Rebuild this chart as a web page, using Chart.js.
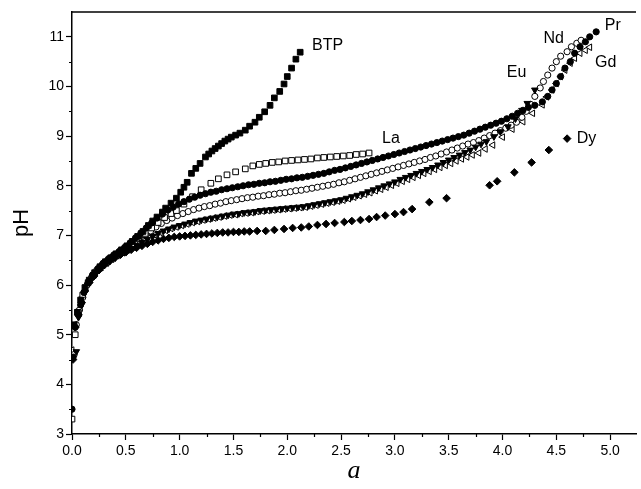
<!DOCTYPE html>
<html>
<head>
<meta charset="utf-8">
<script src="https://cdn.jsdelivr.net/npm/chart.js@4.4.1/dist/chart.umd.min.js"></script>
<style>
  html, body { margin: 0; padding: 0; background: #fff; overflow: hidden; }
  #wrap { width: 641px; height: 489px; }
</style>
</head>
<body>
<div id="wrap"><canvas id="chartCanvas"></canvas></div>
<script>
// Titration curves: pH against a, one array of [a, pH] pairs per series
const btp = [[0.02,5.2],[0.05,5.45],[0.08,5.7],[0.12,5.95],[0.16,6.1],[0.21,6.25],[0.26,6.37],[0.31,6.47],[0.36,6.55],[0.41,6.63],[0.46,6.71],[0.51,6.79],[0.56,6.88],[0.61,6.98],[0.66,7.08],[0.71,7.2],[0.75,7.29],[0.79,7.37],[0.84,7.47],[0.87,7.55],[0.92,7.65],[0.97,7.75],[1.01,7.87],[1.04,7.97],[1.07,8.07],[1.11,8.25],[1.15,8.35],[1.19,8.45],[1.24,8.58],[1.27,8.64],[1.30,8.7],[1.33,8.75],[1.36,8.8],[1.39,8.85],[1.42,8.9],[1.45,8.94],[1.48,8.98],[1.52,9.02],[1.56,9.06],[1.61,9.12],[1.65,9.2],[1.70,9.28],[1.74,9.38],[1.79,9.49],[1.84,9.62],[1.88,9.77],[1.93,9.9],[1.97,10.05],[2.0,10.2],[2.04,10.37],[2.08,10.55],[2.12,10.69]];

const la = [[0,3.3],[0.03,5.0],[0.06,5.45],[0.1,5.8],[0.15,6.05],[0.2,6.2],[0.26,6.35],[0.32,6.46],[0.38,6.56],[0.44,6.65],[0.5,6.74],[0.56,6.83],[0.62,6.93],[0.68,7.04],[0.74,7.15],[0.8,7.26],[0.86,7.36],[0.92,7.44],[0.97,7.5],[1.04,7.63],[1.12,7.78],[1.2,7.92],[1.29,8.05],[1.36,8.14],[1.44,8.22],[1.52,8.28],[1.61,8.34],[1.68,8.4],[1.74,8.43],[1.8,8.45],[1.86,8.47],[1.92,8.48],[1.98,8.5],[2.04,8.51],[2.1,8.52],[2.16,8.53],[2.22,8.54],[2.28,8.56],[2.34,8.57],[2.4,8.58],[2.46,8.59],[2.52,8.6],[2.58,8.61],[2.64,8.63],[2.7,8.64],[2.76,8.66]];

const pr = [[0,3.5],[0.01,4.55],[0.03,5.15],[0.06,5.4],[0.08,5.6],[0.11,5.85],[0.15,6.05],[0.19,6.2],[0.24,6.33],[0.29,6.44],[0.34,6.53],[0.39,6.61],[0.44,6.68],[0.49,6.76],[0.54,6.85],[0.59,6.95],[0.64,7.05],[0.69,7.15],[0.74,7.25],[0.79,7.35],[0.84,7.43],[0.89,7.51],[0.94,7.57],[0.99,7.63],[1.04,7.68],[1.09,7.73],[1.14,7.77],[1.19,7.81],[1.24,7.84],[1.29,7.87],[1.34,7.89],[1.39,7.92],[1.44,7.94],[1.49,7.96],[1.54,7.98],[1.59,8.0],[1.64,8.02],[1.69,8.03],[1.74,8.05],[1.79,8.06],[1.84,8.08],[1.89,8.09],[1.94,8.11],[1.99,8.13],[2.04,8.14],[2.09,8.16],[2.14,8.17],[2.19,8.19],[2.24,8.21],[2.29,8.23],[2.34,8.25],[2.39,8.28],[2.44,8.31],[2.49,8.33],[2.54,8.36],[2.59,8.39],[2.64,8.42],[2.69,8.45],[2.74,8.48],[2.79,8.51],[2.84,8.54],[2.89,8.57],[2.94,8.6],[2.99,8.63],[3.04,8.66],[3.09,8.69],[3.14,8.72],[3.19,8.75],[3.24,8.78],[3.29,8.81],[3.34,8.84],[3.39,8.87],[3.44,8.9],[3.49,8.93],[3.54,8.96],[3.59,8.99],[3.64,9.02],[3.69,9.06],[3.74,9.1],[3.79,9.14],[3.84,9.18],[3.89,9.22],[3.94,9.26],[3.99,9.3],[4.04,9.35],[4.09,9.4],[4.14,9.46],[4.19,9.52],[4.24,9.58],[4.3,9.62],[4.37,9.69],[4.42,9.8],[4.46,9.93],[4.5,10.06],[4.54,10.2],[4.58,10.37],[4.63,10.5],[4.67,10.67],[4.72,10.8],[4.77,10.9],[4.81,11.0],[4.87,11.1]];

const nd = [[0.02,4.6],[0.04,5.2],[0.07,5.5],[0.1,5.75],[0.14,6.0],[0.18,6.15],[0.23,6.3],[0.28,6.41],[0.33,6.5],[0.38,6.58],[0.43,6.65],[0.48,6.72],[0.53,6.79],[0.58,6.86],[0.63,6.93],[0.68,7.01],[0.73,7.09],[0.78,7.17],[0.83,7.24],[0.88,7.3],[0.93,7.35],[0.98,7.4],[1.03,7.44],[1.08,7.48],[1.13,7.52],[1.18,7.55],[1.23,7.58],[1.28,7.6],[1.33,7.63],[1.38,7.65],[1.43,7.68],[1.48,7.7],[1.53,7.72],[1.58,7.74],[1.63,7.76],[1.68,7.77],[1.73,7.79],[1.78,7.8],[1.83,7.82],[1.88,7.83],[1.93,7.85],[1.98,7.86],[2.03,7.88],[2.08,7.9],[2.13,7.91],[2.18,7.93],[2.23,7.95],[2.28,7.97],[2.33,7.99],[2.38,8.01],[2.43,8.03],[2.48,8.06],[2.53,8.08],[2.58,8.11],[2.63,8.14],[2.68,8.17],[2.73,8.2],[2.78,8.23],[2.83,8.26],[2.88,8.29],[2.93,8.32],[2.98,8.35],[3.03,8.38],[3.08,8.41],[3.13,8.44],[3.18,8.47],[3.23,8.5],[3.28,8.53],[3.33,8.57],[3.38,8.6],[3.43,8.64],[3.48,8.68],[3.53,8.72],[3.58,8.76],[3.63,8.8],[3.68,8.84],[3.73,8.87],[3.78,8.91],[3.83,8.96],[3.88,9.01],[3.93,9.06],[3.98,9.11],[4.03,9.16],[4.08,9.22],[4.13,9.28],[4.18,9.38],[4.22,9.5],[4.26,9.64],[4.3,9.8],[4.35,9.97],[4.38,10.1],[4.42,10.23],[4.46,10.37],[4.5,10.5],[4.54,10.61],[4.6,10.7],[4.64,10.8],[4.69,10.87],[4.73,10.93]];

const eu = [[0.04,4.66],[0.06,5.35],[0.09,5.6],[0.12,5.85],[0.16,6.05],[0.2,6.18],[0.25,6.3],[0.3,6.4],[0.35,6.48],[0.4,6.55],[0.45,6.62],[0.5,6.68],[0.55,6.74],[0.6,6.8],[0.65,6.86],[0.7,6.92],[0.75,6.98],[0.8,7.04],[0.85,7.09],[0.9,7.13],[0.95,7.17],[1.0,7.2],[1.05,7.23],[1.1,7.26],[1.15,7.29],[1.2,7.31],[1.25,7.33],[1.3,7.35],[1.35,7.37],[1.4,7.39],[1.45,7.41],[1.5,7.43],[1.55,7.44],[1.6,7.46],[1.65,7.47],[1.7,7.48],[1.75,7.5],[1.8,7.51],[1.85,7.52],[1.9,7.53],[1.95,7.54],[2.0,7.55],[2.05,7.56],[2.1,7.57],[2.15,7.58],[2.2,7.6],[2.25,7.62],[2.3,7.64],[2.35,7.66],[2.4,7.68],[2.45,7.7],[2.5,7.72],[2.55,7.75],[2.6,7.78],[2.65,7.81],[2.7,7.84],[2.75,7.88],[2.8,7.92],[2.85,7.96],[2.9,8.0],[2.95,8.04],[3.0,8.08],[3.05,8.13],[3.1,8.17],[3.15,8.21],[3.2,8.25],[3.25,8.29],[3.3,8.33],[3.35,8.37],[3.4,8.42],[3.45,8.47],[3.5,8.52],[3.55,8.57],[3.6,8.62],[3.65,8.67],[3.7,8.72],[3.75,8.78],[3.8,8.84],[3.85,8.89],[3.92,8.99],[3.98,9.09],[4.05,9.19],[4.12,9.35],[4.18,9.52],[4.23,9.66],[4.3,9.93]];

const gd = [[0,4.69],[0.03,5.2],[0.06,5.5],[0.09,5.72],[0.13,5.95],[0.17,6.1],[0.22,6.24],[0.27,6.35],[0.32,6.44],[0.37,6.52],[0.42,6.59],[0.47,6.65],[0.52,6.71],[0.57,6.77],[0.62,6.83],[0.67,6.89],[0.72,6.95],[0.77,7.01],[0.82,7.06],[0.87,7.1],[0.92,7.14],[0.97,7.17],[1.02,7.2],[1.07,7.23],[1.12,7.26],[1.17,7.28],[1.22,7.31],[1.27,7.33],[1.32,7.35],[1.37,7.37],[1.42,7.39],[1.47,7.41],[1.52,7.42],[1.57,7.44],[1.62,7.45],[1.67,7.46],[1.72,7.48],[1.77,7.49],[1.82,7.5],[1.87,7.51],[1.92,7.52],[1.97,7.53],[2.02,7.54],[2.07,7.55],[2.12,7.56],[2.17,7.57],[2.22,7.59],[2.27,7.61],[2.32,7.63],[2.37,7.65],[2.42,7.67],[2.47,7.69],[2.52,7.71],[2.57,7.74],[2.62,7.77],[2.67,7.8],[2.72,7.83],[2.77,7.86],[2.82,7.9],[2.87,7.93],[2.92,7.97],[2.97,8.01],[3.02,8.05],[3.07,8.09],[3.12,8.13],[3.17,8.17],[3.22,8.21],[3.27,8.25],[3.32,8.29],[3.37,8.33],[3.42,8.37],[3.47,8.41],[3.52,8.45],[3.57,8.5],[3.62,8.54],[3.67,8.58],[3.72,8.62],[3.78,8.66],[3.84,8.74],[3.91,8.82],[4.0,8.98],[4.09,9.14],[4.19,9.29],[4.28,9.46],[4.37,9.63],[4.41,9.79],[4.46,9.93],[4.5,10.06],[4.54,10.2],[4.58,10.33],[4.63,10.47],[4.67,10.57],[4.72,10.67],[4.77,10.73],[4.81,10.79]];

const dy = [[0.01,4.5],[0.03,5.15],[0.06,5.4],[0.09,5.65],[0.12,5.88],[0.16,6.05],[0.2,6.17],[0.25,6.3],[0.3,6.4],[0.35,6.48],[0.4,6.55],[0.45,6.61],[0.5,6.66],[0.55,6.71],[0.6,6.75],[0.65,6.79],[0.7,6.83],[0.75,6.87],[0.8,6.9],[0.85,6.93],[0.9,6.95],[0.95,6.97],[1.0,6.98],[1.05,6.99],[1.1,7.0],[1.15,7.01],[1.2,7.02],[1.25,7.03],[1.3,7.04],[1.35,7.05],[1.4,7.06],[1.45,7.06],[1.5,7.07],[1.55,7.07],[1.6,7.08],[1.65,7.08],[1.72,7.09],[1.8,7.09],[1.88,7.11],[1.97,7.13],[2.05,7.15],[2.13,7.16],[2.2,7.18],[2.28,7.21],[2.36,7.23],[2.44,7.25],[2.53,7.27],[2.6,7.29],[2.68,7.31],[2.76,7.33],[2.83,7.37],[2.91,7.4],[3.0,7.43],[3.08,7.47],[3.16,7.53],[3.32,7.67],[3.48,7.75],[3.88,8.01],[3.95,8.09],[4.11,8.27],[4.27,8.47],[4.43,8.72],[4.6,8.95]];

// Curve labels placed at data coordinates (left edge, vertical middle)
const labelNames = ["BTP", "La", "Eu", "Nd", "Pr", "Gd", "Dy"];
const labelA = [2.23, 2.88, 4.04, 4.38, 4.95, 4.86, 4.69];
const labelPH = [10.83, 8.95, 10.28, 10.97, 11.23, 10.48, 8.95];

const xTicks = [0, 0.5, 1, 1.5, 2, 2.5, 3, 3.5, 4, 4.5, 5];
const yTicks = [3, 4, 5, 6, 7, 8, 9, 10, 11];

const toPts = arr => arr.map(p => ({ x: p[0], y: p[1] }));

function series(label, arr, style, filled, size, rot) {
    return {
        label: label,
        data: toPts(arr),
        pointStyle: style,
        pointRotation: rot || 0,
        pointRadius: size,
        pointHoverRadius: size,
        pointBorderWidth: 1,
        pointBorderColor: "#000",
        pointBackgroundColor: filled ? "#000" : "#fff",
        showLine: false
    };
}

// minor ticks, top frame line and the curve labels
const extrasPlugin = {
    id: "extras",
    afterDraw(chart) {
        const ctx = chart.ctx;
        const xs = chart.scales.x, ys = chart.scales.y;
        const area = chart.chartArea;
        ctx.save();
        ctx.strokeStyle = "#000";
        ctx.lineWidth = 1.2;
        ctx.beginPath();
        for (let v = 0.25; v < 5.25; v += 0.5) {
            const px = Math.round(xs.getPixelForValue(v)) + 0.5;
            ctx.moveTo(px, area.bottom);
            ctx.lineTo(px, area.bottom + 3);
        }
        for (let v = 3.5; v < 11.5; v += 1) {
            const py = Math.round(ys.getPixelForValue(v)) + 0.5;
            ctx.moveTo(area.left, py);
            ctx.lineTo(area.left - 3, py);
        }
        ctx.stroke();
        ctx.lineWidth = 1.5;
        ctx.beginPath();
        ctx.moveTo(area.left, area.top);
        ctx.lineTo(area.right, area.top);
        ctx.stroke();

        ctx.fillStyle = "#000";
        ctx.font = "16px 'Liberation Sans', Arial, sans-serif";
        ctx.textAlign = "left";
        ctx.textBaseline = "middle";
        labelNames.forEach((name, i) => {
            ctx.fillText(name, xs.getPixelForValue(labelA[i]), ys.getPixelForValue(labelPH[i]));
        });
        ctx.restore();
    }
};

const ctx = document.getElementById("chartCanvas").getContext("2d");
new Chart(ctx, {
    type: "scatter",
    data: {
        datasets: [
            series("BTP", btp, "rect", true, 4),
            series("Pr", pr, "circle", true, 3.1),
            series("Eu", eu, "triangle", true, 3.8, 180),
            series("Dy", dy, "rectRot", true, 3.8),
            series("La", la, "rect", false, 4),
            series("Nd", nd, "circle", false, 3.1),
            series("Gd", gd, "triangle", false, 3.8, 270)
        ]
    },
    options: {
        responsive: true,
        maintainAspectRatio: false,
        animation: false,
        events: [],
        layout: { padding: { top: 12, right: 0, left: 0, bottom: 0 } },
        plugins: { legend: { display: false }, tooltip: { enabled: false } },
        scales: {
            x: {
                type: "linear",
                min: 0,
                max: 5.24,
                afterBuildTicks: axis => { axis.ticks = xTicks.map(v => ({ value: v })); },
                afterFit: axis => { axis.height = 55; },
                border: { display: true, color: "#000", width: 1.5 },
                grid: { drawOnChartArea: false, drawTicks: true, tickLength: 6, tickColor: "#000", tickWidth: 1.2 },
                ticks: {
                    color: "#000",
                    padding: 3,
                    maxRotation: 0,
                    font: { family: "'Liberation Sans', Arial, sans-serif", size: 14 },
                    callback: v => v.toFixed(1)
                },
                title: {
                    display: true,
                    text: "a",
                    color: "#000",
                    padding: { top: 0, bottom: 2 },
                    font: { family: "'Liberation Serif', 'Times New Roman', serif", size: 26, style: "italic" }
                }
            },
            y: {
                type: "linear",
                min: 3,
                max: 11.5,
                afterBuildTicks: axis => { axis.ticks = yTicks.map(v => ({ value: v })); },
                afterFit: axis => { axis.width = 72; },
                border: { display: true, color: "#000", width: 1.5 },
                grid: { drawOnChartArea: false, drawTicks: true, tickLength: 6, tickColor: "#000", tickWidth: 1.2 },
                ticks: {
                    color: "#000",
                    padding: 2,
                    font: { family: "'Liberation Sans', Arial, sans-serif", size: 14 }
                },
                title: {
                    display: true,
                    text: "pH",
                    color: "#000",
                    padding: { top: 9, bottom: 0 },
                    font: { family: "'Liberation Sans', Arial, sans-serif", size: 22 }
                }
            }
        }
    },
    plugins: [extrasPlugin]
});
</script>
</body>
</html>
